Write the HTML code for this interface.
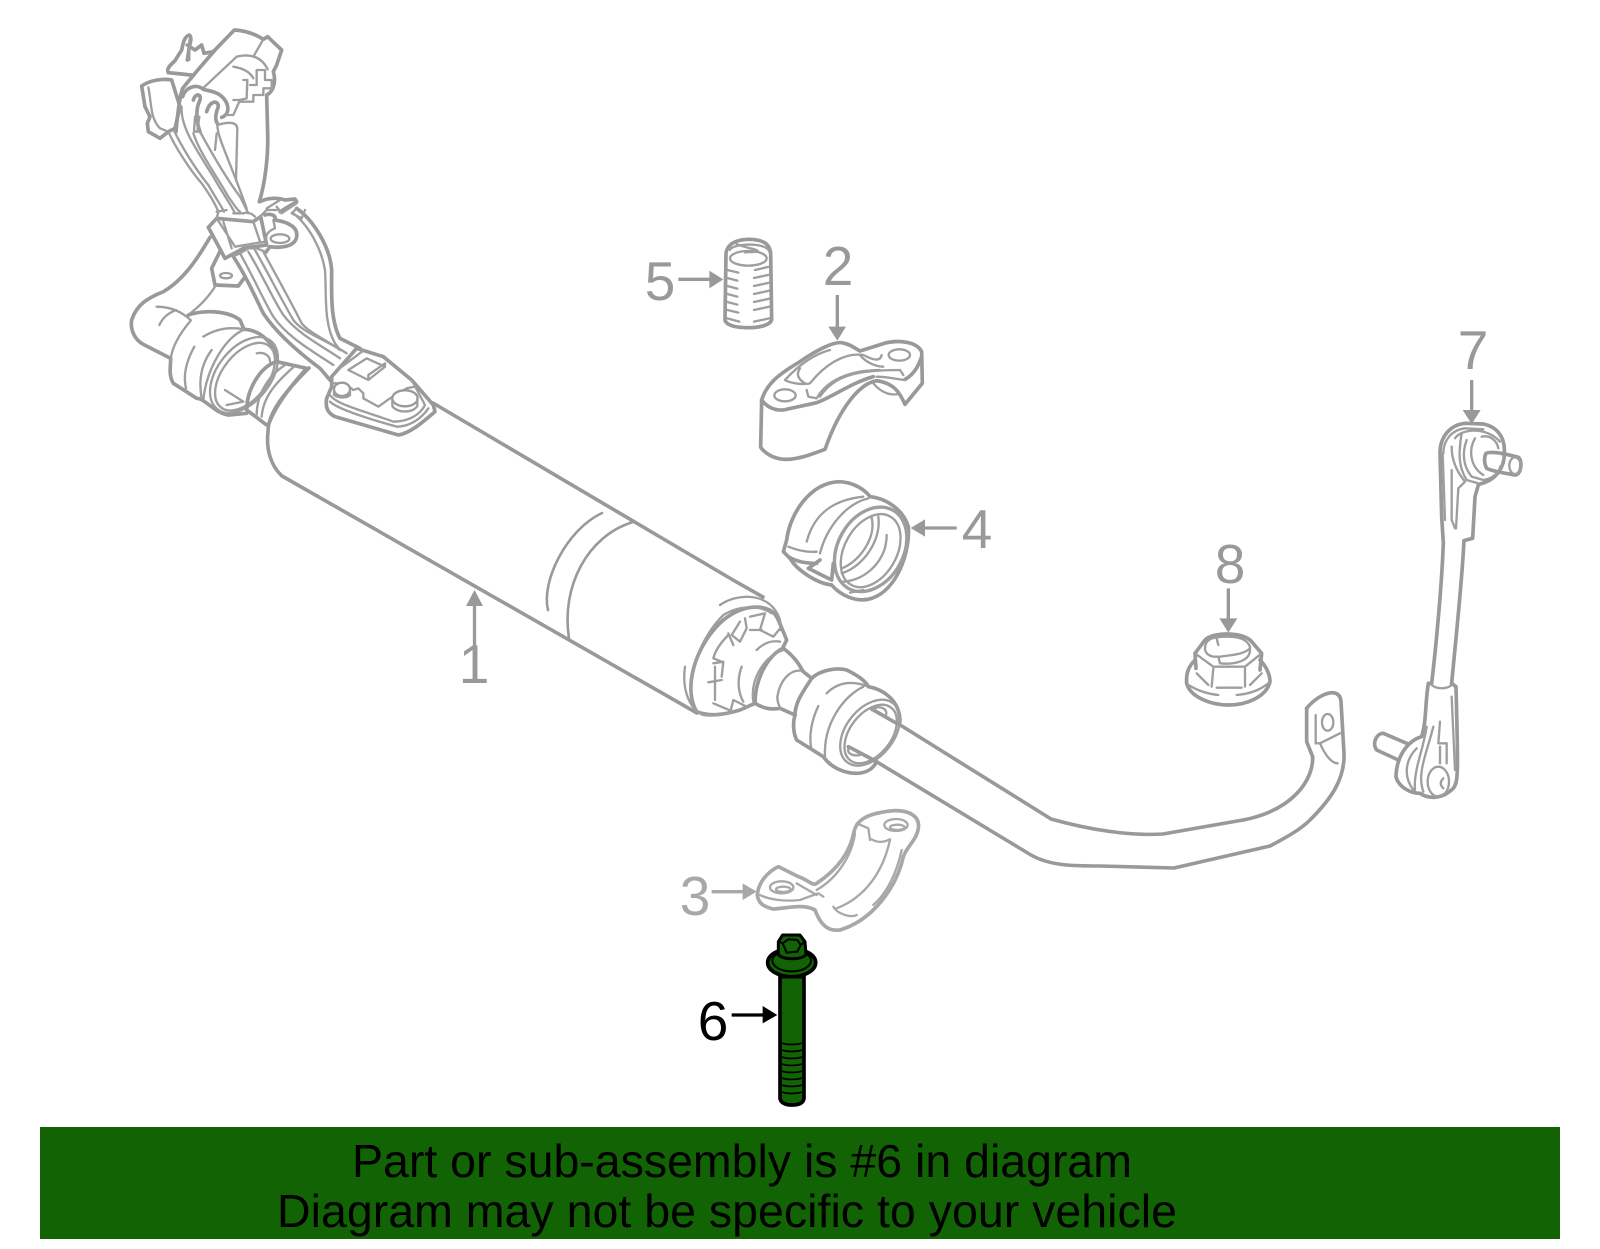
<!DOCTYPE html>
<html><head><meta charset="utf-8"><style>
html,body{margin:0;padding:0;background:#fff}
svg{display:block}
.a{fill:#fff;stroke:#999;stroke-width:11;stroke-linejoin:round;stroke-linecap:round}
.t{fill:none;stroke:#999;stroke-width:11;stroke-linejoin:round;stroke-linecap:round}
.i{fill:none;stroke:#9e9e9e;stroke-width:7;stroke-linejoin:round;stroke-linecap:round}
.h{fill:#999;stroke:none}
.l{fill:none;stroke:#999;stroke-width:10}
text{font-family:"Liberation Sans",sans-serif}
.n{font-size:55px;fill:#999;text-anchor:middle}
</style></head><body>
<svg width="1600" height="1249" viewBox="0 0 1600 1249" xmlns="http://www.w3.org/2000/svg">
<rect width="1600" height="1249" fill="#fff"/>

<!-- tank -->
<g fill="none" stroke="#999" stroke-width="3.600" stroke-linecap="round" stroke-linejoin="round">
<path d="M433,403 L733,580 L763,597"/>
<path d="M309,368 C285,392 268,412 268,432 C266,450 271,466 282,476 L697,713"/>
<path d="M602,513 C566,530 541,582 548,610" stroke-width="2.600"/>
<path d="M633,522 C587,536 561,587 569,638" stroke-width="2.600"/>
<!-- bar -->
<path d="M897,723 L1051,819 C1090,830 1130,836 1163,834 L1243,820"/>
<path d="M877,762 L1031,855 C1050,866 1075,866 1100,866 L1174,868 L1270,846 C1285,838 1300,830 1310,820"/>
</g>

<!-- zoom1 group -->
<g transform="translate(100,0) scale(.33333)">
<path class="t" d="M205,218 C198,205 212,195 225,182 L245,150 C250,125 255,108 268,105 C276,112 272,125 268,140 L262,180"/>
<path class="t" d="M262,135 L285,150 L305,135 L312,160 L340,155 L403,90 C440,92 470,105 490,118 L503,110 L545,150 L530,195 L520,215 C528,240 522,270 505,282"/>
<path class="t" d="M205,218 L245,222 L280,226"/>
<path class="t" d="M345,150 L285,220 L248,265 C238,290 232,350 228,395"/>
<path class="i" d="M410,170 L312,262 M410,170 C450,160 485,170 503,208"/>
<path class="i" d="M490,118 L460,170"/>
<path class="i" d="M268,120 L268,180"/>
<path class="t" d="M500,285 L503,400 C505,470 495,550 478,605"/>
<path class="t" d="M125,258 C150,240 190,235 215,240 L240,320 L225,385 L205,395 L180,415 L145,395 L142,370 L150,350 L135,320 Z"/>
<path class="i" d="M145,262 C155,310 150,355 180,385 L205,395"/>
<path class="t" d="M248,290 C255,262 290,250 310,268 C335,275 360,275 378,305 C388,325 385,345 365,352"/>
<path class="t" d="M280,300 C285,280 305,280 300,300 C285,330 290,370 300,395"/>
<path class="t" d="M320,335 C330,300 355,300 355,320 C345,345 345,360 352,370"/>
<path class="i" d="M352,375 C385,365 410,365 412,385 L408,540"/>
<path class="i" d="M350,400 L345,450 M285,350 L298,350 L292,395 L282,395 Z"/>
<path class="i" d="M400,200 C430,205 450,215 460,235"/>
<path class="i" d="M430,240 L442,240 L440,295 L418,300 L418,305 L460,305 L460,285 L490,285 L490,265 L515,265 L515,240 L495,240 L495,210 L470,210 L470,255 L450,255"/>
<path class="i" d="M400,300 L420,300 L400,345 L380,345"/>
<!-- wires -->
<path class="i" d="M205,395 C225,440 270,510 305,550 C330,585 345,610 355,635"/>
<path class="i" d="M222,392 C245,440 285,505 325,555 C345,590 365,620 372,635"/>
<path class="i" d="M245,320 C240,380 290,450 340,530 C365,575 390,610 405,640"/>
<path class="i" d="M280,400 C300,460 345,520 385,590 C400,610 410,630 420,635"/>
<path class="i" d="M300,395 C330,450 375,530 420,590 L445,640"/>
<path class="i" d="M352,370 C350,410 385,470 440,625"/>
<path class="t" d="M325,682 L350,655 L460,665 L482,650 L500,735 L430,745 L375,775 Z"/>
<path class="i" d="M350,655 L405,740 L495,725 M370,665 L395,745 M385,660 L460,665 L480,725 M355,635 L350,655 M380,630 L350,635 M400,640 L430,640 C445,635 455,640 465,650 M470,660 L500,630 L530,630"/>
<path class="t" d="M480,605 C510,590 540,595 555,600 L585,597 L590,605 L540,635"/>
<path class="i" d="M530,620 L545,640 L590,610 M500,625 L540,600"/>
<path class="t" d="M590,625 C640,660 690,740 695,810 C695,870 690,960 720,1015 L780,1045"/>
<path class="i" d="M580,640 C630,680 665,750 675,810 C680,880 670,970 705,1030 L720,1050 M590,625 L575,640 L605,655 L615,630"/>
<path class="t" d="M495,645 C510,640 530,645 525,660 C560,665 595,680 590,710 C585,740 545,745 510,740 L495,760"/>
<ellipse class="i" cx="540" cy="716" rx="28" ry="13"/>
<path class="i" d="M520,660 L525,685 C500,695 495,710 500,725"/>
<path class="t" d="M335,805 L362,750 M335,805 L345,855 L415,858 L432,835"/>
<ellipse class="i" cx="378" cy="827" rx="18" ry="8"/>
<path class="t" d="M330,712 C290,780 250,840 190,875 C140,895 110,915 95,960 C90,990 105,1020 130,1033 L212,1075"/>
<path class="i" d="M345,860 C320,900 290,925 265,945 M170,920 C210,920 245,935 272,960 M178,975 C190,950 205,940 228,930"/>
<!-- wires lower -->
<path class="t" d="M400,770 C440,830 470,900 490,940 C530,1000 600,1060 660,1105 L690,1140"/>
<path class="i" d="M420,760 C460,830 490,900 520,950 C560,1010 640,1055 700,1095"/>
<path class="i" d="M445,755 C490,830 520,900 550,945 C590,1000 670,1040 720,1075"/>
<path class="i" d="M465,750 C510,830 545,900 580,960 C610,1000 680,1020 740,1060"/>
<path class="i" d="M490,755 C530,830 570,900 605,970 C630,1000 680,1020 720,1050"/>
<path class="i" d="M398,770 L420,760 L445,745 L470,745 L495,755"/>
<!-- collar -->
<path class="t" d="M212,1075 C212,1100 205,1125 220,1150 L290,1195 C315,1195 345,1240 385,1245 L440,1240"/>
<path class="t" d="M265,945 C310,930 380,930 420,960 L432,988 C480,990 525,1030 530,1080"/>
<path class="i" d="M272,962 C240,1000 215,1040 212,1080 M310,1010 C350,985 390,980 432,988 M283,1040 C255,1090 250,1130 258,1165 M335,1050 C305,1090 295,1140 305,1195"/>
<path class="i" d="M430,990 C380,1010 320,1100 310,1200"/>
<ellipse class="i" cx="432" cy="1125" rx="80" ry="130" transform="rotate(38 432 1125)"/>
<ellipse class="i" cx="435" cy="1130" rx="68" ry="117" transform="rotate(38 435 1130)"/>
<path class="t" d="M530,1085 C480,1100 440,1170 440,1230 L500,1275"/>
<path class="t" d="M530,1085 L620,1105 C570,1160 525,1220 505,1275"/>
<path class="i" d="M555,1095 C500,1130 470,1190 470,1245 M582,1100 C525,1150 490,1190 485,1250 M470,1060 C490,1055 510,1065 510,1085 M375,1170 L430,1205 M380,1215 L430,1205"/>
<!-- sensor -->
<path class="a" d="M680,1195 L695,1160 L695,1130 L770,1045 L850,1070 L935,1140 L1000,1215 L1005,1235 C970,1265 930,1300 895,1305 L705,1250 C685,1240 675,1225 680,1195 Z"/>
<path class="i" d="M690,1205 C710,1225 800,1255 890,1280 C930,1280 965,1255 985,1225 M690,1185 C710,1215 800,1235 880,1265 C925,1265 960,1245 975,1215 L935,1140"/>
<path class="i" d="M745,1110 L805,1140 L855,1100 L800,1075 Z M805,1140 L805,1125 L855,1090 L855,1100"/>
<path class="i" d="M700,1150 L735,1150 L760,1170 L775,1165 L790,1180 L790,1195 L835,1220 L870,1195 L920,1165 L945,1160"/>
<ellipse class="a" cx="726" cy="1168" rx="24" ry="20" style="stroke-width:7"/>
<path class="i" d="M702,1175 L702,1185 C715,1195 740,1195 750,1185 L750,1170"/>
<ellipse class="a" cx="915" cy="1195" rx="38" ry="24" style="stroke-width:7"/>
<path class="i" d="M877,1195 L877,1218 C890,1240 940,1240 952,1218 L952,1195"/>
<path class="i" d="M715,1108 L790,1052"/>
</g>

<!-- zoom2 group -->
<g transform="translate(620,220) scale(.33333)">
<path class="a" d="M318,100 C320,85 330,60 385,58 C440,58 450,80 452,100 L455,300 C450,315 420,323 385,323 C345,323 318,315 315,300 Z"/>
<ellipse class="i" cx="385" cy="115" rx="55" ry="22"/>
<path class="i" d="M330,90 C335,70 440,65 448,95 M350,72 C375,85 410,85 415,95 L375,97"/>
<path class="i" d="M322,150 L355,158 M322,174 L352,182 M322,198 L352,206 M322,222 L352,230 M322,246 L352,254 M322,270 L355,278 M322,295 L358,305"/>
<path class="i" d="M405,150 L448,140 M402,174 L448,164 M402,198 L448,188 M402,222 L448,212 M402,246 L448,236 M402,270 L448,260 M402,305 L448,295"/>
<path class="l" d="M175,178 H275"/><path class="h" d="M268,152 L310,178 L268,205 Z"/>
<path class="l" d="M652,225 V325"/><path class="h" d="M625,320 H678 L652,362 Z"/>
<path class="l" d="M1010,924 H910"/><path class="h" d="M915,898 V950 L872,924 Z"/>

<path class="a" d="M425,540 C440,490 480,460 540,425 C590,390 640,365 665,368 C690,372 705,385 720,393 L800,368 C840,360 890,365 905,395 L907,490 L855,553 C840,520 825,490 770,482 C720,490 660,560 615,688 C570,705 530,720 490,718 C460,715 435,700 422,682 Z"/>
<path class="t" d="M425,540 C440,560 460,572 490,570 L590,548 C640,530 690,490 760,470"/>
<path class="t" d="M855,478 C880,465 895,440 905,410"/>
<path class="i" d="M760,490 C780,515 810,528 835,522 M770,470 C800,470 835,478 852,480"/>
<ellipse class="i" cx="495" cy="526" rx="32" ry="18"/>
<ellipse class="i" cx="838" cy="405" rx="32" ry="17"/>
<path class="i" d="M495,480 C540,430 590,400 630,390 M495,480 C510,490 550,495 570,490 C610,440 670,395 730,405 C750,415 780,430 785,405 M540,445 C530,460 530,475 555,490"/>
<path class="i" d="M560,510 L565,530 L590,535 C620,480 690,450 780,450 M600,530 C640,470 700,450 840,450 L850,465 M720,405 C740,430 770,440 790,440"/>

<path class="a" d="M490,995 L500,960 C510,880 570,790 655,785 C700,785 735,810 750,830 C800,835 850,870 865,920 C870,1000 830,1110 755,1135 C710,1150 660,1125 635,1095 C590,1090 530,1050 510,1015 Z"/>
<ellipse class="i" cx="752" cy="988" rx="98" ry="135" transform="rotate(30 752 988)" style="stroke-width:10"/>
<ellipse class="i" cx="752" cy="992" rx="78" ry="118" transform="rotate(30 752 992)"/>
<path class="i" d="M775,890 C785,960 730,1040 665,1060 M755,893 C770,960 710,1030 665,1045 M800,945 C800,1020 740,1080 670,1085 M730,1110 L690,1118"/>
<path class="i" d="M560,965 C580,890 630,840 730,830 M600,1000 C620,920 680,850 745,835 M505,980 C530,990 560,998 590,995"/>
<path class="t" d="M505,1010 C530,1025 555,1030 590,1030 M565,1045 L600,1020 M565,1045 L635,1080 L640,1030"/>
</g>

<!-- zoom3 group -->
<g transform="translate(640,580) scale(.33333)">
<path class="a" d="M170,395 C130,330 160,200 250,120 C320,65 390,75 410,110 C420,130 432,160 440,180 L428,205 C380,230 345,300 345,370 L300,390 C250,405 210,410 170,395 Z"/>
<path class="i" d="M240,75 C290,40 370,40 405,90 C420,110 425,130 420,150"/>
<path class="i" d="M135,260 C125,330 150,390 190,405 C220,410 250,405 280,395"/>
<path class="i" d="M155,360 C140,300 175,180 250,105 C300,75 360,75 395,100"/>
<path class="i" d="M330,110 L375,100 L360,150 L400,170 L425,140 M330,150 L365,150 M315,115 L320,145 L300,185 L275,165 L300,125 M265,160 L280,195 M265,165 C240,190 225,215 220,235 L245,245 M220,250 L250,245 L245,290 M225,260 L225,360 M205,307 L245,300 M220,370 L272,392 L280,360 L320,380 M305,260 C290,300 295,340 310,365 M350,210 C370,190 395,180 420,185"/>
<path class="t" d="M430,205 C470,235 480,260 490,275 L515,295 M345,370 C370,385 390,390 420,385 L465,405"/>
<path class="i" d="M430,210 C370,230 330,300 340,365 M480,272 C450,270 420,300 412,350 C412,370 420,385 425,388"/>
<path class="t" d="M515,295 C540,270 590,262 620,270 C650,285 675,300 685,320 C740,330 780,370 780,425"/>
<path class="t" d="M515,295 C485,340 465,370 465,405 C455,440 465,470 470,480 L550,530 C570,560 610,580 650,580 C680,580 700,565 710,545"/>
<path class="i" d="M560,340 C590,310 630,300 680,318 M535,378 C515,420 505,470 515,510 M670,320 C610,350 550,430 555,530"/>
<ellipse class="i" cx="690" cy="458" rx="72" ry="112" transform="rotate(38 690 458)"/>
<ellipse class="i" cx="692" cy="462" rx="62" ry="100" transform="rotate(38 692 462)"/>
<path class="t" d="M695,387 L770,430 M625,500 L710,545"/>
<path class="i" d="M695,390 C720,370 750,390 735,410 M625,505 C620,520 640,530 660,525"/>
</g>

<!-- zoom4 group -->
<g transform="translate(1150,320) scale(.33333)">
<path class="l" d="M235,805 V900"/><path class="h" d="M208,895 H262 L235,938 Z"/>
<path class="l" d="M965,180 V275"/><path class="h" d="M938,270 H992 L965,312 Z"/>
<!-- nut -->
<path class="t" d="M135,1020 C115,1040 108,1060 110,1090 C120,1130 180,1155 235,1155 C290,1155 350,1130 360,1085 C360,1060 345,1035 330,1020"/>
<path class="i" d="M115,1095 C140,1110 170,1122 205,1125 M260,1125 C300,1122 330,1110 355,1090"/>
<path class="t" d="M135,1000 L165,960 C190,935 280,935 305,965 L335,1000 L330,1050 M135,1000 L138,1045"/>
<path class="i" d="M135,1000 L190,1040 L285,1040 L335,1000 M190,1045 L185,1100 M285,1045 L285,1100 M140,1060 L175,1095 M300,1095 L335,1060 M200,1103 L275,1103"/>
<path class="i" d="M165,985 C165,955 190,950 235,950 C290,950 302,975 300,990 C300,1020 260,1035 210,1030 L205,1010 L190,1010 C170,1005 165,995 165,985 M200,955 L205,975 M210,1010 C240,1005 280,1005 300,985"/>
<!-- bracket -->
<path class="t" d="M470,1165 C490,1140 520,1120 545,1118 C565,1118 572,1130 573,1145 L582,1300 C585,1380 540,1440 480,1500"/>
<path class="t" d="M470,1165 L470,1265 L488,1310 C490,1380 430,1470 280,1500"/>
<path class="i" d="M497,1185 L497,1270 L510,1270 L570,1240 M510,1270 C525,1305 545,1330 563,1330"/>
<ellipse class="i" cx="533" cy="1207" rx="17" ry="25"/>
<!-- link top -->
<path class="t" d="M880,670 L875,590 L870,400 C870,350 900,315 945,310 L1000,312 C1040,320 1065,350 1063,395 C1065,440 1040,480 990,492"/>
<path class="t" d="M985,495 L975,530 L968,655 L942,662"/>
<path class="i" d="M880,400 C880,360 905,330 945,325 L1000,328 M915,355 C935,325 1010,320 1050,365 M935,340 C925,400 925,440 950,480 L985,490 M950,360 C935,400 940,440 965,470 L1000,480 C1030,475 1050,455 1050,440"/>
<path class="i" d="M975,355 C955,390 960,440 1000,465 M995,350 C1020,345 1040,360 1045,385"/>
<path class="i" d="M905,380 C905,420 920,455 945,485 L925,505 L918,625 M905,450 L905,600 L915,625 M878,400 L885,600"/>
<path class="t" d="M1008,400 C1025,393 1060,400 1105,412 C1118,420 1115,465 1095,465 C1070,460 1030,455 1010,445 C1002,430 1002,412 1008,400 Z"/>
<ellipse class="i" cx="1095" cy="437" rx="17" ry="25"/>
<path class="t" d="M880,670 C875,800 858,980 845,1090 M942,662 C935,800 915,980 905,1090"/>
<!-- link lower -->
<path class="t" d="M845,1090 L835,1090 C825,1150 830,1200 815,1250 C780,1260 740,1300 738,1370 C745,1400 780,1420 810,1420 C840,1440 880,1435 910,1405 C925,1385 925,1360 918,1100 L905,1090"/>
<path class="i" d="M845,1095 C860,1108 890,1108 905,1095"/>
<path class="t" d="M770,1270 L700,1240 C680,1240 665,1270 680,1290 L745,1320"/>
<path class="i" d="M850,1220 C830,1300 800,1360 820,1415 M830,1220 C820,1290 790,1350 795,1410 M800,1285 C765,1320 760,1370 790,1410"/>
<ellipse class="i" cx="865" cy="1385" rx="32" ry="45"/>
<path class="i" d="M870,1205 L865,1270 L890,1270 L890,1330 M905,1130 L915,1350 M880,1375 C870,1385 870,1395 880,1405 M870,1280 L870,1330"/>
</g>

<!-- zoom5 group -->
<g transform="translate(660,800) scale(.33333)">
<path class="a" style="stroke:#a8a8a8" d="M292,285 C295,245 325,215 355,200 L415,230 C445,240 460,260 470,250 C530,210 570,160 582,95 C590,60 620,40 700,32 C750,30 780,50 775,85 C770,120 740,140 730,170 C710,260 640,360 540,390 C500,395 480,370 465,330 C430,310 380,325 340,327 C310,320 295,310 292,285 Z"/>
<path class="i" style="stroke:#a8a8a8" d="M300,285 C330,300 380,305 420,300 L475,280 L490,290 M410,250 L470,285 M630,120 L625,85 L590,70 M635,118 C650,128 670,128 690,118 M690,120 C670,210 620,290 530,325 M725,150 C710,220 680,280 640,315 M520,320 C530,340 570,355 590,345 M585,100 C575,170 530,235 470,270"/>
<ellipse class="i" style="stroke:#a8a8a8" cx="365" cy="262" rx="35" ry="18"/>
<ellipse class="i" style="stroke:#a8a8a8" cx="370" cy="268" rx="22" ry="8"/>
<ellipse class="i" style="stroke:#a8a8a8" cx="708" cy="75" rx="35" ry="18"/>
<ellipse class="i" style="stroke:#a8a8a8" cx="712" cy="82" rx="22" ry="8"/>
<path d="M155,275 H250" stroke="#a8a8a8" stroke-width="10" fill="none"/><path d="M248,250 V300 L290,275 Z" fill="#a8a8a8"/>
<path d="M215,645 H312" stroke="#000" stroke-width="10" fill="none"/><path d="M308,618 V670 L352,645 Z" fill="#000"/>
<!-- bolt -->
<path d="M360,530 L360,895 C362,910 380,915 395,915 C415,915 430,910 432,895 L432,530 Z" fill="#126304" stroke="#000" stroke-width="11"/>
<path d="M362,728 C380,735 410,735 430,728 M362,749 C380,756 410,756 430,749 M362,770 C380,777 410,777 430,770 M362,791 C380,798 410,798 430,791 M362,812 C380,819 410,819 430,812 M362,833 C380,840 410,840 430,833 M362,854 C380,861 410,861 430,854 M362,875 C380,882 410,882 430,875" fill="none" stroke="#000" stroke-width="5"/>
<ellipse cx="395" cy="488" rx="72" ry="42" fill="#126304" stroke="#000" stroke-width="11"/>
<ellipse cx="395" cy="482" rx="58" ry="32" fill="#126304" stroke="#000" stroke-width="6"/>
<path d="M355,425 L368,405 L420,405 L435,425 L438,465 C420,480 375,480 355,465 Z" fill="#126304" stroke="#000" stroke-width="9" stroke-linejoin="round"/>
<path d="M368,430 L385,418 L412,420 L422,435 L412,455 L380,458 Z M355,425 L368,430 M435,425 L422,435" fill="none" stroke="#000" stroke-width="6"/>
</g>

<text class="n" x="660" y="300">5</text>
<text class="n" x="838" y="285">2</text>
<text class="n" x="977" y="548">4</text>
<text class="n" x="474" y="683">1</text>
<text class="n" x="695" y="915" style="fill:#a8a8a8">3</text>
<text class="n" x="713" y="1040" style="fill:#000">6</text>
<text class="n" x="1473" y="369">7</text>
<text class="n" x="1230" y="583">8</text>
<path d="M474.500,648 V605" stroke="#999" stroke-width="3.300" fill="none"/>
<path d="M466,606 H483 L474.500,590 Z" fill="#999"/>

<rect x="40" y="1127" width="1520" height="112" fill="#126304"/>
<text x="352" y="1177" font-size="46.500" fill="#000" textLength="780" lengthAdjust="spacingAndGlyphs">Part or sub-assembly is #6 in diagram</text>
<text x="277" y="1227" font-size="46.500" fill="#000" textLength="900" lengthAdjust="spacingAndGlyphs">Diagram may not be specific to your vehicle</text>
</svg>
</body></html>
